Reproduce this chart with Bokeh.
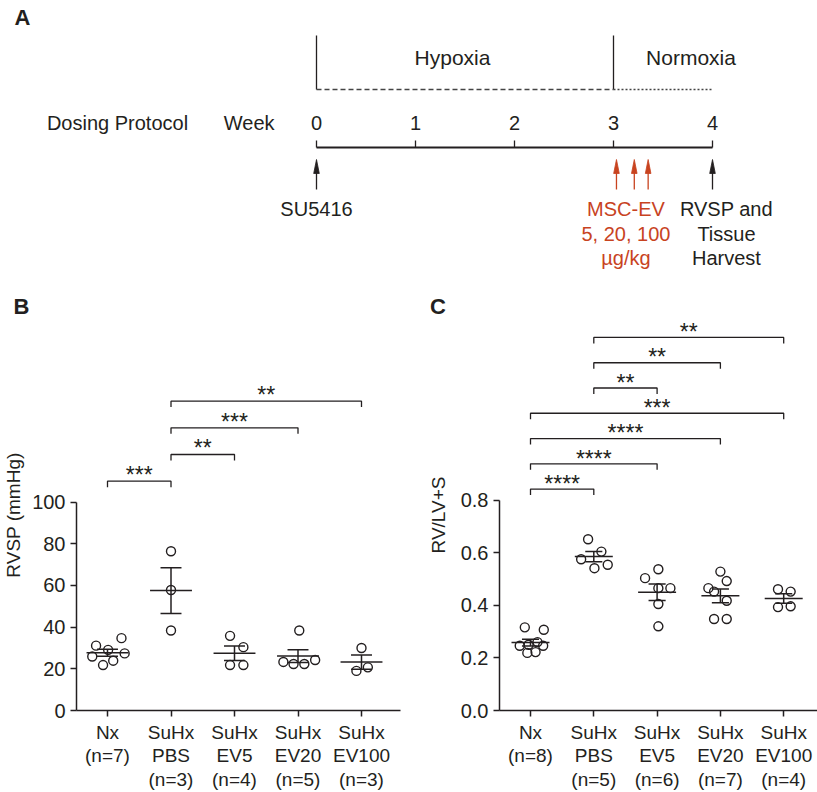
import numpy as np
from bokeh.plotting import figure
from bokeh.layouts import column, row
from bokeh.models import Range1d, FixedTicker, PrintfTickFormatter
from bokeh.embed import file_html
from bokeh.resources import INLINE
from bokeh.core.properties import value

FONT = "Liberation Sans"
INK = "#231f20"
RED = "#c8431f"

# ---------------- Panel A data (weeks) ----------------
weeks = [0, 1, 2, 3, 4]
hypoxia_period = [0, 3]
normoxia_period = [3, 4]
su5416_week = 0
ev_dose_weeks = [3.03, 3.21, 3.35]
harvest_week = 4
ev_label = ["MSC-EV", "5, 20, 100", "\u00b5g/kg"]
harvest_label = ["RVSP and", "Tissue", "Harvest"]

# ---------------- Panel B data: RVSP (mmHg) ----------------
labels_B = ["Nx\n(n=7)", "SuHx\nPBS\n(n=3)", "SuHx\nEV5\n(n=4)", "SuHx\nEV20\n(n=5)", "SuHx\nEV100\n(n=3)"]
rvsp_nx = [31.1, 29.1, 34.7, 25.9, 21.8, 23.9, 27.4]
rvsp_pbs = [76.4, 57.8, 38.4]
rvsp_ev5 = [35.8, 30.4, 21.8, 21.8]
rvsp_ev20 = [38.4, 23.3, 22.3, 22.3, 24.2]
rvsp_ev100 = [30.0, 19.0, 20.7]
jit_B_nx = [-0.18, 0.01, 0.22, -0.24, -0.07, 0.09, 0.27]
jit_B_pbs = [0.0, 0.0, 0.0]
jit_B_ev5 = [-0.07, 0.14, -0.07, 0.14]
jit_B_ev20 = [0.02, -0.23, -0.07, 0.10, 0.27]
jit_B_ev100 = [0.0, -0.08, 0.10]
comps_B = [(0, 1, "***"), (1, 2, "**"), (1, 3, "***"), (1, 4, "**")]
yticks_B = [0, 20, 40, 60, 80, 100]

# ---------------- Panel C data: RV/LV+S ----------------
labels_C = ["Nx\n(n=8)", "SuHx\nPBS\n(n=5)", "SuHx\nEV5\n(n=6)", "SuHx\nEV20\n(n=7)", "SuHx\nEV100\n(n=4)"]
fulton_nx = [0.316, 0.307, 0.246, 0.250, 0.260, 0.246, 0.219, 0.222]
fulton_pbs = [0.651, 0.575, 0.604, 0.541, 0.554]
fulton_ev5 = [0.537, 0.503, 0.465, 0.465, 0.405, 0.320]
fulton_ev20 = [0.528, 0.492, 0.465, 0.452, 0.417, 0.348, 0.348]
fulton_ev100 = [0.461, 0.452, 0.393, 0.396]
jit_C_nx = [-0.09, 0.21, -0.17, -0.03, 0.11, 0.20, -0.05, 0.08]
jit_C_pbs = [-0.09, -0.20, 0.12, 0.01, 0.22]
jit_C_ev5 = [0.02, -0.19, 0.02, 0.21, 0.02, 0.02]
jit_C_ev20 = [0.0, 0.10, -0.19, -0.10, 0.10, -0.10, 0.10]
jit_C_ev100 = [-0.09, 0.11, -0.09, 0.11]
comps_C = [(0, 1, "****"), (0, 2, "****"), (0, 3, "****"), (0, 4, "***"),
           (1, 2, "**"), (1, 3, "**"), (1, 4, "**")]
yticks_C = [0, 0.2, 0.4, 0.6, 0.8]

panel_letters = ["A", "B", "C"]


def txt(p, x, y, t, color=INK, size="20px", align="center", style="normal"):
    p.text(x=x, y=y, text=t, text_color=color, text_font=value(FONT),
           text_font_size=size, text_align=align, text_baseline="middle",
           text_font_style=style)


# ================= Panel A (plus row of panel letters) =================
HA = 319
PXW = 99.0  # pixels per week
X0 = 316    # pixel of week 0
pA = figure(width=817, height=HA, x_range=Range1d((0 - X0) / PXW, (817 - X0) / PXW),
            y_range=Range1d(HA, 0), min_border=0, x_axis_type=None, y_axis_type=None,
            output_backend="svg", toolbar_location=None)
pA.outline_line_color = None
pA.grid.visible = False

txt(pA, [(22 - X0) / PXW, (21 - X0) / PXW, (437.5 - X0) / PXW], [17, 306, 306],
    panel_letters, size="22px", style="bold")
# period boundaries
pA.segment(x0=hypoxia_period, y0=[35, 35], x1=hypoxia_period, y1=[89, 89], line_color=INK, line_width=1.3)
pA.segment(x0=[hypoxia_period[0]], y0=[89], x1=[hypoxia_period[1]], y1=[89],
           line_color="#444444", line_width=1.4, line_dash="5 3")
pA.segment(x0=[normoxia_period[0]], y0=[89], x1=[normoxia_period[1]], y1=[89],
           line_color="#444444", line_width=1.4, line_dash="2 2")
txt(pA, [1.374], [57], ["Hypoxia"], size="21px")
txt(pA, [3.783], [57], ["Normoxia"], size="21px")
# timeline
txt(pA, [-2.01], [122], ["Dosing Protocol"])
txt(pA, [-0.68], [122], ["Week"])
txt(pA, weeks, [122] * len(weeks), [str(w) for w in weeks])
pA.segment(x0=[weeks[0]], y0=[147], x1=[weeks[-1]], y1=[147], line_color=INK, line_width=1.8)
pA.segment(x0=weeks, y0=[140] * len(weeks), x1=weeks, y1=[147] * len(weeks), line_color=INK, line_width=1.3)


def arrows(p, xs, color):
    hw = 2.8 / PXW
    p.segment(x0=xs, y0=[189] * len(xs), x1=xs, y1=[168] * len(xs), line_color=color, line_width=1.3)
    p.patches(xs=[[x - hw, x, x + hw] for x in xs], ys=[[173, 159, 173] for _ in xs],
              fill_color=color, line_color=color, line_width=0.8)


arrows(pA, [su5416_week, harvest_week], INK)
arrows(pA, ev_dose_weeks, RED)
txt(pA, [su5416_week], [208], ["SU5416"])
txt(pA, [3.126] * 3, [208, 233, 257], ev_label, color=RED)
txt(pA, [4.141] * 3, [208, 233, 257], harvest_label)


# ================= Scatter panels =================
HB = 792 - HA
TOP = HA  # pixel row of the frame top


def scatter_panel(width, min_left, min_right, xr, yr, groups, jitters, labels, yticks, bounds,
                  ylabel, label_standoff, fmt, comps, base, step, drop, star_dy, half_bar, half_cap):
    p = figure(width=width, height=HB, x_range=Range1d(*xr), y_range=Range1d(*yr),
               min_border_left=min_left, min_border_right=min_right, min_border_top=0,
               min_border_bottom=0, output_backend="svg", toolbar_location=None)
    p.outline_line_color = None
    p.grid.visible = False
    for ax in (p.xaxis[0], p.yaxis[0]):
        ax.axis_line_color = INK
        ax.axis_line_width = 1.5
        ax.major_tick_line_color = INK
        ax.major_tick_line_width = 1.5
        ax.major_tick_in = 0
        ax.major_tick_out = 6
        ax.minor_tick_line_color = None
        ax.major_label_text_font = FONT
        ax.major_label_text_color = INK
    xa, ya = p.xaxis[0], p.yaxis[0]
    xa.ticker = FixedTicker(ticks=list(range(len(labels))))
    xa.major_label_overrides = {i: l for i, l in enumerate(labels)}
    xa.major_label_text_font_size = "19px"
    xa.major_label_standoff = 5
    xa.major_label_text_line_height = 1.12
    ya.ticker = FixedTicker(ticks=yticks)
    ya.bounds = bounds
    ya.major_label_text_font_size = "20px"
    ya.major_label_standoff = 5
    if fmt:
        ya.formatter = PrintfTickFormatter(format=fmt)
    ya.axis_label = ylabel
    ya.axis_label_text_font = FONT
    ya.axis_label_text_font_size = "19px"
    ya.axis_label_text_font_style = "normal"
    ya.axis_label_text_color = INK
    ya.axis_label_standoff = label_standoff

    for i, (vals, jit) in enumerate(zip(groups, jitters)):
        v = np.array(vals)
        m = v.mean()
        sem = v.std(ddof=1) / np.sqrt(len(v))
        p.scatter(x=[i + j for j in jit], y=list(v), marker="circle", size=9,
                  fill_color=None, line_color=INK, line_width=1.4)
        p.segment(x0=[i - half_bar, i - half_cap, i - half_cap, i],
                  y0=[m, m + sem, m - sem, m - sem],
                  x1=[i + half_bar, i + half_cap, i + half_cap, i],
                  y1=[m, m + sem, m - sem, m + sem], line_color=INK, line_width=1.5)

    bx, by, tx, ty, tt = [], [], [], [], []
    for k, (a, b, s) in enumerate(comps):
        y = base + step * k
        bx.append([a, a, b, b])
        by.append([y - drop, y, y, y - drop])
        tx.append((a + b) / 2)
        ty.append(y + star_dy)
        tt.append(s)
    p.multi_line(xs=bx, ys=by, line_color=INK, line_width=1.3)
    p.text(x=tx, y=ty, text=tt, text_align="center", text_baseline="alphabetic",
           text_font=value(FONT), text_font_size="23px", text_color=INK)
    return p


pxB = 2.09
pB = scatter_panel(408, 76, 8, (-(107 - 76) / 63.5, (400 - 107) / 63.5), (0, 100 + (502 - TOP) / pxB),
                   [rvsp_nx, rvsp_pbs, rvsp_ev5, rvsp_ev20, rvsp_ev100],
                   [jit_B_nx, jit_B_pbs, jit_B_ev5, jit_B_ev20, jit_B_ev100],
                   labels_B, yticks_B, (0, 100), "RVSP (mmHg)", 5, None, comps_B,
                   110.0, 12.8, 6 / pxB, 6.3 / pxB, 0.33, 0.165)

pxC = 263.75
pC = scatter_panel(409, 91, 0, (-(530 - 499) / 63.3, (817 - 530) / 63.3), (0, 0.8 + (500 - TOP) / pxC),
                   [fulton_nx, fulton_pbs, fulton_ev5, fulton_ev20, fulton_ev100],
                   [jit_C_nx, jit_C_pbs, jit_C_ev5, jit_C_ev20, jit_C_ev100],
                   labels_C, yticks_C, (0, 0.8), "RV/LV+S", 9, "%.1f", comps_C,
                   0.8417, 0.09604, 6 / pxC, 5.3 / pxC, 0.30, 0.135)

layout = column(pA, row(pB, pC))
open("out.html", "w").write(file_html(layout, INLINE))
